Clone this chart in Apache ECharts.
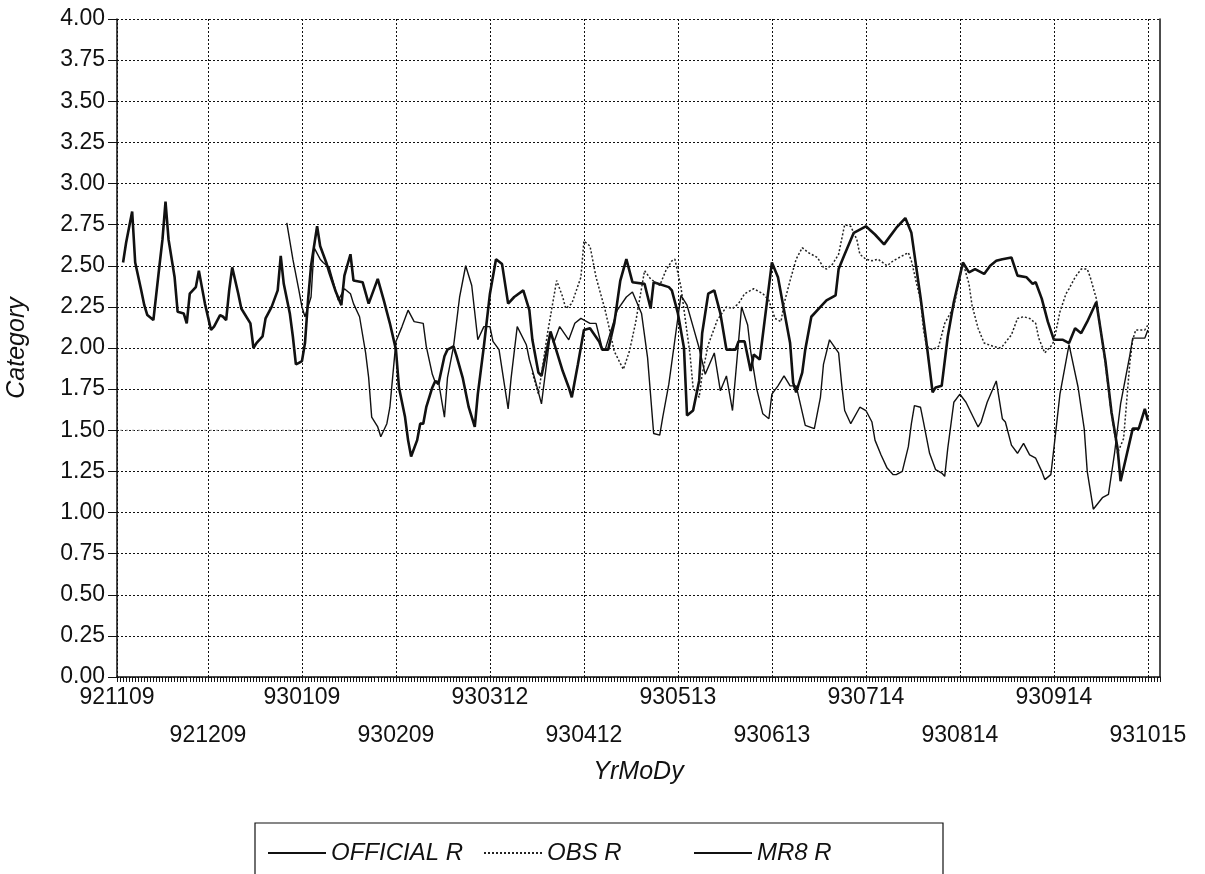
<!DOCTYPE html>
<html>
<head>
<meta charset="utf-8">
<title>OFFICIAL R / OBS R / MR8 R</title>
<script src="https://cdn.jsdelivr.net/npm/echarts@6.0.0/dist/echarts.min.js"></script>
<style>
  html, body { margin: 0; padding: 0; background: #fff; }
  #chart { width: 1205px; height: 874px; }
</style>
</head>
<body>
<div id="chart"></div>
<script>
// x values are day offsets from 921109 (one category per day)
const tickLabels = ['921109', '921209', '930109', '930209', '930312', '930412',
  '930513', '930613', '930714', '930814', '930914', '931015'];

const officialR = [[2,2.52],[3,2.64],[5,2.83],[6,2.52],[8,2.35],[9,2.26],[10,2.20],[12,2.17],[14,2.50],[15,2.66],
  [16,2.89],[17,2.66],[19,2.43],[20,2.22],[22,2.21],[23,2.15],[24,2.33],[26,2.37],[27,2.47],[28,2.37],[29,2.27],
  [31,2.11],[32,2.13],[34,2.20],[35,2.19],[36,2.17],[37,2.35],[38,2.49],[40,2.33],[41,2.24],[42,2.21],[44,2.15],
  [45,2.00],[46,2.03],[48,2.07],[49,2.18],[51,2.25],[53,2.35],[54,2.56],[55,2.39],[57,2.21],[58,2.07],[59,1.90],
  [60,1.91],[61,1.92],[62,2.03],[63,2.29],[64,2.50],[66,2.74],[67,2.62],[69,2.52],[70,2.46],[72,2.35],[74,2.26],
  [75,2.44],[77,2.57],[78,2.41],[81,2.40],[83,2.27],[86,2.42],[88,2.29],[90,2.15],[92,1.99],[93,1.76],[95,1.58],
  [96,1.44],[97,1.34],[99,1.44],[100,1.54],[101,1.54],[102,1.64],[104,1.76],[105,1.80],[106,1.78],[108,1.95],
  [109,1.99],[111,2.01],[112,1.95],[114,1.82],[116,1.64],[118,1.52],[119,1.72],[121,2.01],[123,2.33],[125,2.54],
  [127,2.51],[129,2.27],[131,2.31],[134,2.35],[136,2.23],[137,2.05],[139,1.85],[140,1.83],[143,2.10],[147,1.86],
  [149,1.76],[150,1.70],[152,1.90],[154,2.11],[156,2.12],[159,2.04],[160,1.99],[162,1.99],[164,2.15],[166,2.41],
  [168,2.54],[170,2.40],[174,2.39],[176,2.24],[177,2.40],[182,2.37],[183,2.35],[185,2.21],[187,2.00],[188,1.59],
  [190,1.62],[192,1.80],[193,2.09],[195,2.33],[197,2.35],[199,2.21],[201,1.99],[204,1.99],[205,2.04],[207,2.04],
  [209,1.86],[210,1.96],[212,1.93],[216,2.52],[218,2.43],[220,2.23],[222,2.03],[223,1.79],[224,1.73],[226,1.85],
  [227,1.99],[229,2.19],[232,2.25],[234,2.29],[237,2.32],[238,2.48],[240,2.57],[243,2.70],[245,2.72],[247,2.74],
  [250,2.69],[253,2.63],[255,2.68],[257,2.73],[260,2.79],[262,2.70],[265,2.31],[267,2.03],[269,1.73],[270,1.76],
  [272,1.77],[274,2.07],[276,2.28],[279,2.52],[281,2.46],[283,2.48],[286,2.45],[288,2.50],[290,2.53],[292,2.54],
  [295,2.55],[297,2.44],[300,2.43],[302,2.39],[303,2.40],[305,2.30],[307,2.16],[309,2.05],[312,2.05],[314,2.03],
  [316,2.12],[318,2.09],[320,2.16],[323,2.28],[324,2.16],[326,1.92],[328,1.61],[330,1.39],[331,1.19],[333,1.35],
  [335,1.51],[337,1.51],[339,1.63],[340,1.56]];

// OBS R: faint flat stretch at the start, then the main dotted run
const obsEarly = [[1,1.50],[88,1.50]];

const obsR = [[137,1.85],[139,1.72],[142,2.09],[145,2.41],[147,2.31],[148,2.24],
  [150,2.27],[153,2.43],[154,2.65],[156,2.62],[158,2.43],[161,2.23],[162,2.15],[164,1.98],[167,1.87],[169,1.98],
  [171,2.15],[174,2.47],[176,2.42],[179,2.38],[181,2.47],[183,2.53],[184,2.54],[186,2.37],[189,1.96],[190,1.76],
  [192,1.70],[193,1.84],[195,2.02],[198,2.17],[201,2.25],[203,2.24],[205,2.27],[207,2.33],[210,2.36],[213,2.33],
  [215,2.29],[217,2.18],[219,2.16],[220,2.27],[222,2.41],[224,2.54],[226,2.61],[228,2.58],[231,2.55],[233,2.49],
  [234,2.48],[236,2.51],[238,2.57],[240,2.75],[242,2.74],[244,2.66],[245,2.57],[247,2.54],[249,2.53],[251,2.54],
  [254,2.50],[256,2.53],[258,2.55],[261,2.58],[262,2.53],[265,2.29],[266,2.11],[267,2.01],[269,1.99],[271,2.01],
  [273,2.15],[276,2.25],[279,2.52],[281,2.39],[282,2.26],[284,2.12],[286,2.03],[289,2.01],[291,2.00],[292,2.01],
  [295,2.08],[297,2.18],[299,2.19],[301,2.18],[303,2.15],[304,2.06],[306,1.97],[308,2.01],[309,2.04],[311,2.22],
  [313,2.33],[314,2.36],[316,2.43],[318,2.48],[320,2.48],[321,2.43],[323,2.30],[326,1.90],[328,1.60],[330,1.36],
  [332,1.45],[334,1.90],[335,2.05],[336,2.11],[339,2.11],[340,2.14]];

const mr8R = [[56,2.76],[58,2.54],[60,2.35],[61,2.25],[62,2.19],[64,2.31],[65,2.61],[67,2.54],[68,2.52],[70,2.49],
  [73,2.29],[75,2.36],[77,2.33],[78,2.27],[80,2.19],[82,1.97],[83,1.82],[84,1.58],[86,1.52],[87,1.46],[89,1.54],
  [90,1.64],[91,1.84],[92,2.04],[94,2.13],[96,2.23],[98,2.16],[101,2.15],[102,2.01],[104,1.84],[105,1.79],
  [106,1.80],[108,1.58],[109,1.82],[111,2.01],[113,2.31],[115,2.50],[117,2.38],[119,2.05],[121,2.13],[123,2.13],
  [124,2.04],[126,1.99],[129,1.63],[130,1.82],[132,2.13],[135,2.02],[136,1.93],[138,1.80],[140,1.66],[143,2.10],
  [144,2.03],[146,2.13],[149,2.05],[151,2.15],[153,2.18],[156,2.15],[158,2.15],[160,2.00],[161,1.99],[165,2.23],
  [168,2.31],[170,2.34],[173,2.21],[175,1.94],[177,1.48],[179,1.47],[180,1.58],[182,1.78],[184,2.05],[186,2.32],
  [188,2.26],[190,2.13],[192,2.00],[194,1.84],[197,1.97],[199,1.74],[201,1.83],[203,1.62],[206,2.25],[208,2.14],
  [209,1.98],[211,1.75],[213,1.60],[215,1.57],[216,1.72],[218,1.77],[220,1.83],[222,1.77],[224,1.77],[227,1.53],
  [230,1.51],[232,1.70],[233,1.90],[235,2.05],[238,1.97],[239,1.78],[240,1.62],[242,1.54],[245,1.64],[247,1.62],
  [249,1.55],[250,1.44],[252,1.35],[254,1.27],[256,1.23],[257,1.23],[259,1.25],[261,1.40],[262,1.54],[263,1.65],
  [265,1.64],[266,1.55],[268,1.36],[270,1.26],[272,1.24],[273,1.22],[274,1.39],[276,1.67],[278,1.72],[280,1.67],
  [284,1.52],[285,1.55],[287,1.67],[290,1.80],[292,1.57],[293,1.55],[295,1.41],[297,1.36],[299,1.42],[301,1.35],
  [303,1.33],[305,1.25],[306,1.20],[308,1.23],[309,1.39],[311,1.72],[313,1.92],[314,2.02],[317,1.76],[319,1.51],
  [320,1.25],[322,1.02],[325,1.09],[327,1.11],[329,1.36],[331,1.66],[334,1.95],[335,2.06],[338,2.06],[339,2.06],
  [340,2.11]];

// daily categories 921109 .. 931019
const categories = [];
for (let i = 0; i < 345; i++) {
  const d = new Date(Date.UTC(1992, 10, 9 + i));
  const p = n => String(n).padStart(2, '0');
  categories.push(p(d.getUTCFullYear() % 100) + p(d.getUTCMonth() + 1) + p(d.getUTCDate()));
}

const FONT = "'Liberation Sans', Arial, sans-serif";
const INK = '#111';
const isTick = (idx, val) => tickLabels.indexOf(val) >= 0;

const chart = echarts.init(document.getElementById('chart'));

chart.setOption({
  animation: false,
  backgroundColor: '#fff',
  textStyle: { fontFamily: FONT, color: INK },
  grid: { left: 117, right: 45, top: 19, bottom: 197, containLabel: false, outerBoundsMode: 'none' },
  xAxis: {
    type: 'category',
    data: categories,
    boundaryGap: false,
    name: 'YrMoDy',
    nameLocation: 'middle',
    nameGap: 78,
    nameTextStyle: { fontSize: 25, fontStyle: 'italic', color: INK, fontFamily: FONT },
    axisLine: { lineStyle: { color: INK, width: 1.5 } },
    axisTick: { show: true, interval: 0, length: 5, lineStyle: { color: INK, width: 1 } },
    axisLabel: {
      interval: isTick,
      fontSize: 23,
      color: INK,
      margin: 2,
      lineHeight: 38,
      formatter: v => (tickLabels.indexOf(v) % 2 ? '\n' + v : v)
    },
    splitLine: { show: true, interval: isTick, lineStyle: { color: INK, type: [2, 2], width: 1 } }
  },
  yAxis: [{
    type: 'value',
    min: 0,
    max: 4,
    interval: 0.25,
    name: 'Category',
    nameLocation: 'middle',
    nameGap: 87,
    nameRotate: 90,
    nameTextStyle: { fontSize: 25, fontStyle: 'italic', color: INK, fontFamily: FONT },
    axisLine: { show: true, lineStyle: { color: INK, width: 1.5 } },
    axisTick: { show: true, length: 9, lineStyle: { color: INK } },
    axisLabel: { fontSize: 23, color: INK, margin: 12, formatter: v => v.toFixed(2) },
    splitLine: { show: true, lineStyle: { color: INK, type: [2, 2], width: 1 } }
  }, {
    // right frame line only
    type: 'value',
    position: 'right',
    min: 0,
    max: 4,
    interval: 0.25,
    axisLine: { show: true, lineStyle: { color: INK, width: 1.5 } },
    axisTick: { show: false },
    axisLabel: { show: false },
    splitLine: { show: false }
  }],
  legend: [
    { data: ['OFFICIAL R'], left: 262, top: 836 },
    { data: ['OBS R'], left: 478, top: 836 },
    { data: ['MR8 R'], left: 688, top: 836 }
  ].map(l => Object.assign(l, {
    itemWidth: 58,
    itemHeight: 14,
    selectedMode: false,
    itemStyle: { opacity: 0 },
    textStyle: { fontSize: 24, fontStyle: 'italic', color: INK, fontFamily: FONT }
  })),
  graphic: [{
    type: 'rect',
    shape: { x: 255, y: 823, width: 688, height: 70 },
    style: { fill: 'none', stroke: INK, lineWidth: 1.2 },
    silent: true
  }],
  series: [{
    name: 'OFFICIAL R',
    type: 'line',
    data: officialR,
    symbol: 'none',
    lineStyle: { color: INK, width: 2.6 },
    itemStyle: { color: INK }
  }, {
    name: 'OBS R',
    type: 'line',
    data: obsR,
    symbol: 'none',
    lineStyle: { color: '#222', width: 1.5, type: [2, 2] },
    itemStyle: { color: '#222' }
  }, {
    name: 'OBS R',
    type: 'line',
    data: obsEarly,
    symbol: 'none',
    lineStyle: { color: '#999', width: 1.2, type: [2, 4] },
    itemStyle: { color: '#999' }
  }, {
    name: 'MR8 R',
    type: 'line',
    data: mr8R,
    symbol: 'none',
    lineStyle: { color: INK, width: 1.4 },
    itemStyle: { color: INK }
  }]
});
</script>
</body>
</html>
